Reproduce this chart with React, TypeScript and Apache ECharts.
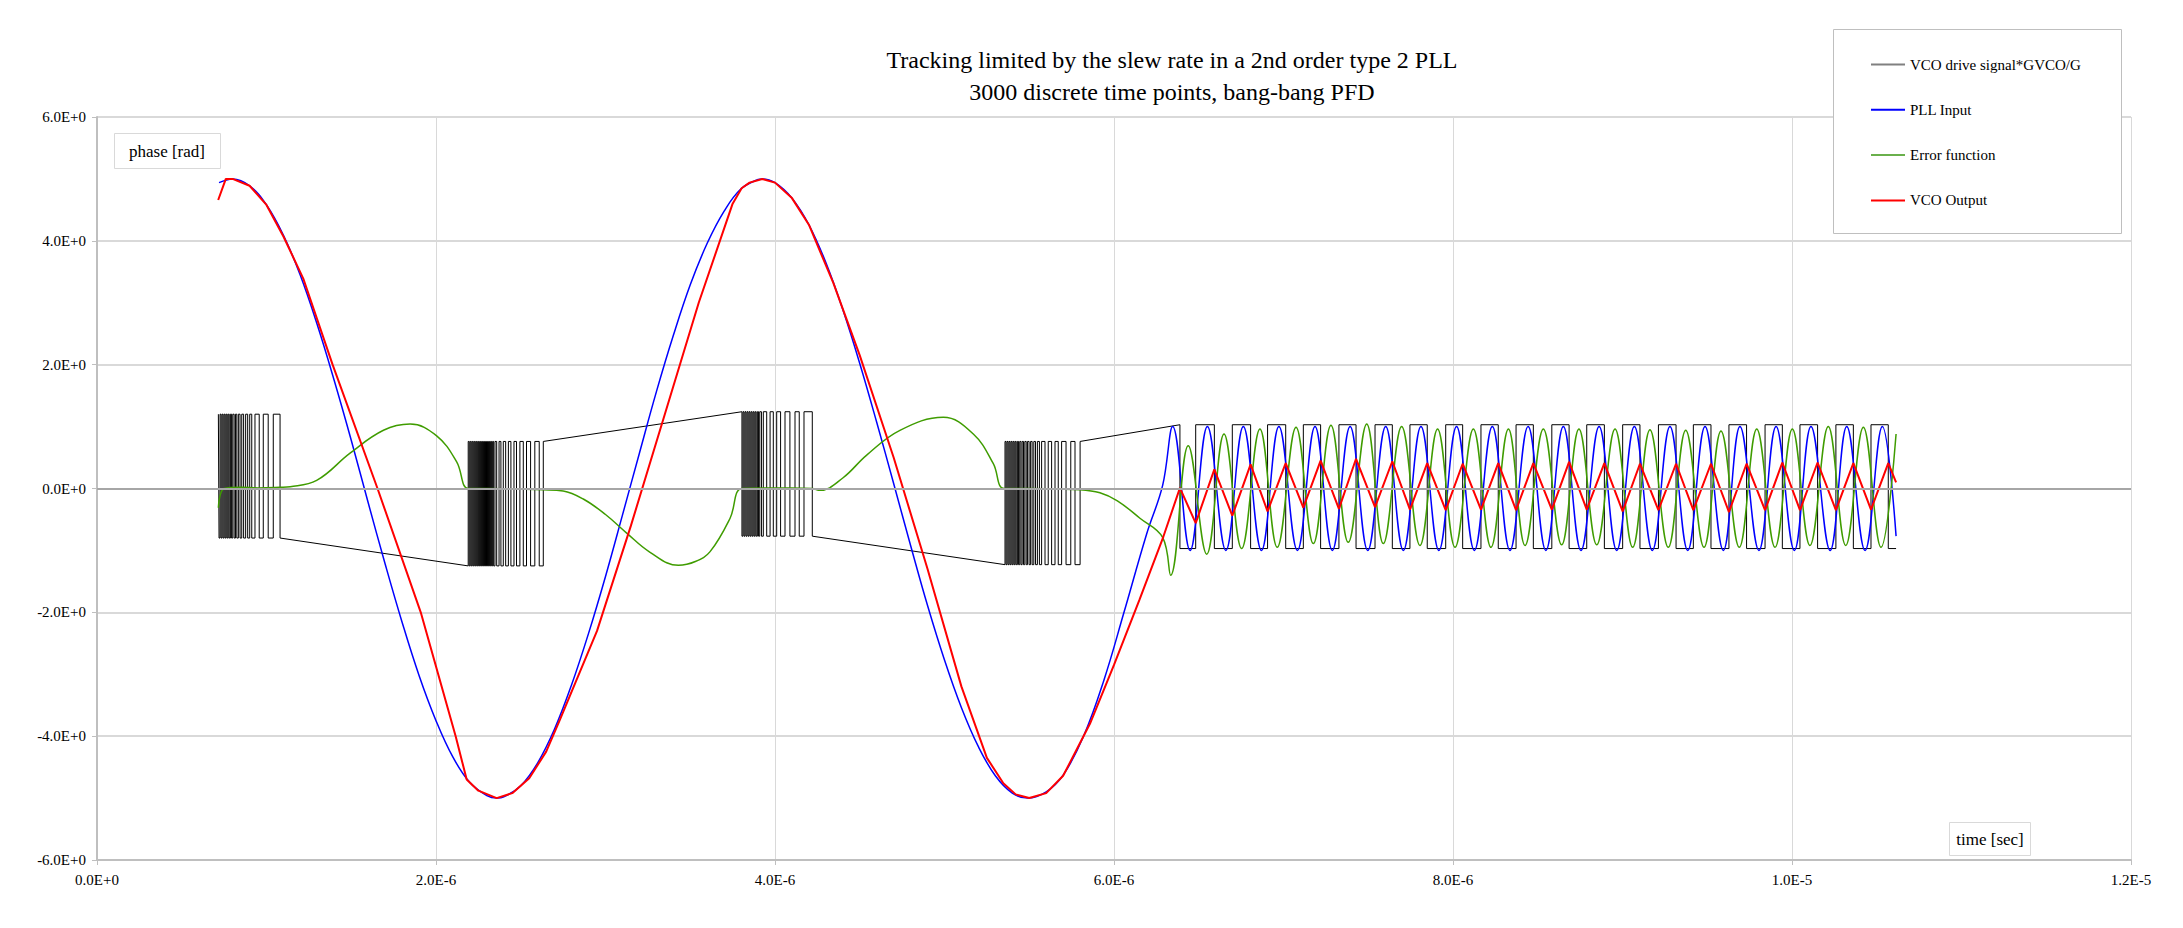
import React, { useEffect, useRef } from "react";
import * as echarts from "echarts";

const TITLE = "Tracking limited by the slew rate in a 2nd order type 2 PLL";
const SUBTITLE = "3000 discrete time points, bang-bang PFD";
const Y_NAME = "phase [rad]";
const X_NAME = "time [sec]";
const seriesNames = ["VCO drive signal*GVCO/G", "PLL Input", "Error function", "VCO Output"];

// time axis is kept in microseconds; labels show seconds
const xTickLabels = ["0.0E+0", "2.0E-6", "4.0E-6", "6.0E-6", "8.0E-6", "1.0E-5", "1.2E-5"];
const yTickLabels = ["-6.0E+0", "-4.0E+0", "-2.0E+0", "0.0E+0", "2.0E+0", "4.0E+0", "6.0E+0"];

// PLL Input [t(us), rad]
const pllInput = [
  [0.72, 4.94], [0.8, 5.0], [0.9, 4.89], [1.0, 4.58], [1.1, 4.09], [1.2, 3.44], [1.3, 2.64], [1.4, 1.74],
  [1.5, 0.78], [1.6, -0.23], [1.7, -1.22], [1.8, -2.16], [1.9, -3.02], [2.0, -3.75], [2.1, -4.34], [2.2, -4.75],
  [2.3, -4.96], [2.36, -5.0], [2.4, -4.98], [2.5, -4.8], [2.6, -4.43], [2.7, -3.88], [2.8, -3.17], [2.9, -2.34],
  [3.0, -1.42], [3.1, -0.43], [3.2, 0.57], [3.3, 1.56], [3.4, 2.47], [3.5, 3.29], [3.6, 3.96], [3.7, 4.48],
  [3.8, 4.84], [3.9, 4.99], [3.925, 5.0], [4.0, 4.94], [4.1, 4.69], [4.2, 4.26], [4.3, 3.65], [4.4, 2.89],
  [4.5, 2.02], [4.6, 1.07], [4.7, 0.08], [4.8, -0.92], [4.9, -1.89], [5.0, -2.77], [5.1, -3.54], [5.2, -4.17],
  [5.3, -4.64], [5.4, -4.92], [5.49, -5.0], [5.6, -4.9], [5.7, -4.63], [5.819, -4.01], [5.94, -3.1], [6.059, -2.0],
  [6.193, -0.73], [6.287, 0.05],
  [6.346, 1.0], [6.449, -1.0], [6.551, 1.0], [6.66, -1.0], [6.763, 1.0], [6.87, -1.0], [6.973, 1.0], [7.082, -1.0],
  [7.186, 1.0], [7.288, -1.0], [7.393, 1.0], [7.497, -1.0], [7.603, 1.0], [7.707, -1.0], [7.811, 1.0], [7.917, -1.0],
  [8.021, 1.0], [8.126, -1.0], [8.232, 1.0], [8.336, -1.0], [8.443, 1.0], [8.548, -1.0], [8.651, 1.0], [8.755, -1.0],
  [8.862, 1.0], [8.966, -1.0], [9.07, 1.0], [9.176, -1.0], [9.28, 1.0], [9.385, -1.0], [9.487, 1.0], [9.595, -1.0],
  [9.693, 1.0], [9.805, -1.0], [9.906, 1.0], [10.014, -1.0], [10.112, 1.0], [10.225, -1.0], [10.323, 1.0],
  [10.431, -1.0], [10.533, 1.0], [10.614, -0.77],
];

// VCO Output
const vcoOutput = [
  [0.715, 4.66], [0.76, 5.0], [0.8, 5.0], [0.9, 4.89], [1.0, 4.58], [1.1, 4.07], [1.217, 3.39], [1.39, 2.0],
  [1.655, 0.0], [1.91, -2.0], [2.116, -4.0], [2.181, -4.7], [2.25, -4.88], [2.358, -5.0], [2.45, -4.92],
  [2.55, -4.68], [2.65, -4.25], [2.73, -3.74], [2.95, -2.3], [3.15, -0.6], [3.35, 1.2], [3.55, 3.0], [3.75, 4.6],
  [3.803, 4.85], [3.85, 4.94], [3.925, 5.0], [4.0, 4.94], [4.1, 4.69], [4.2, 4.26], [4.344, 3.32], [4.5, 2.15],
  [4.7, 0.5], [4.9, -1.3], [5.1, -3.2], [5.25, -4.35], [5.347, -4.76], [5.42, -4.94], [5.5, -5.0], [5.6, -4.92],
  [5.7, -4.64], [5.858, -3.8], [6.0, -2.85], [6.15, -1.8], [6.291, -0.78], [6.389, 0.01],
  [6.482, -0.56], [6.592, 0.31], [6.698, -0.44], [6.806, 0.39], [6.906, -0.37], [7.013, 0.41], [7.117, -0.31],
  [7.219, 0.45], [7.327, -0.33], [7.428, 0.48], [7.54, -0.3], [7.642, 0.44], [7.746, -0.34], [7.848, 0.41],
  [7.957, -0.35], [8.057, 0.4], [8.165, -0.34], [8.267, 0.41], [8.372, -0.35], [8.474, 0.41], [8.583, -0.34],
  [8.685, 0.43], [8.789, -0.34], [8.893, 0.41], [9.001, -0.37], [9.103, 0.4], [9.212, -0.35], [9.316, 0.4],
  [9.418, -0.35], [9.522, 0.4], [9.628, -0.38], [9.732, 0.4], [9.841, -0.35], [9.943, 0.42], [10.047, -0.35],
  [10.151, 0.42], [10.259, -0.35], [10.362, 0.41], [10.466, -0.34], [10.568, 0.41], [10.614, 0.1],
];

// Error function
const errorFunction = [
  [0.716, -0.31], [0.75, 0.0], [0.85, 0.02], [0.95, 0.01], [1.08, 0.02], [1.14, 0.03], [1.296, 0.13],
  [1.493, 0.57], [1.69, 0.94], [1.847, 1.04], [2.004, 0.85], [2.122, 0.43], [2.19, 0.0], [2.3, 0.0],
  [2.45, -0.01], [2.633, -0.02], [2.75, -0.04], [2.869, -0.17], [3.0, -0.42], [3.125, -0.72], [3.263, -1.03],
  [3.43, -1.24], [3.53, -1.18], [3.617, -1.02], [3.735, -0.48], [3.803, 0.0], [3.95, 0.01], [4.1, 0.01],
  [4.22, 0.0], [4.265, -0.03], [4.4, 0.17], [4.541, 0.54], [4.737, 0.94], [4.993, 1.15], [5.17, 0.88],
  [5.288, 0.4], [5.351, 0.0], [5.5, 0.0], [5.65, -0.01], [5.8, -0.02], [5.917, -0.07], [6.02, -0.2],
  [6.153, -0.48], [6.287, -0.79],
  [6.334, -1.4], [6.438, 0.69], [6.547, -1.06], [6.649, 0.88], [6.753, -0.97], [6.861, 0.96], [6.963, -0.95],
  [7.074, 0.99], [7.176, -0.89], [7.28, 1.02], [7.382, -0.87], [7.491, 1.04], [7.589, -0.89], [7.697, 1.0],
  [7.805, -0.92], [7.909, 0.96], [8.012, -0.95], [8.12, 0.96], [8.224, -0.95], [8.327, 0.96], [8.425, -0.92],
  [8.533, 0.96], [8.641, -0.91], [8.743, 0.96], [8.848, -0.91], [8.956, 0.96], [9.06, -0.95], [9.162, 0.95],
  [9.27, -0.95], [9.373, 0.94], [9.481, -0.95], [9.581, 0.93], [9.689, -0.95], [9.792, 0.96], [9.9, -0.95],
  [10.002, 0.96], [10.106, -0.92], [10.214, 1.0], [10.317, -0.92], [10.421, 0.99], [10.525, -0.95], [10.614, 0.88],
];

// VCO drive signal: switching instants (us) of each burst, with its high / low levels
const burst1Toggles = [0.72, 0.726, 0.732, 0.738, 0.744, 0.75, 0.756, 0.762, 0.768, 0.774, 0.78, 0.787, 0.794, 0.801,
  0.809, 0.817, 0.825, 0.834, 0.844, 0.854, 0.865, 0.877, 0.889, 0.901, 0.913, 0.932, 0.957, 0.981, 1.01, 1.04, 1.08];
const burst2Toggles = [2.19, 2.196, 2.202, 2.208, 2.214, 2.22, 2.226, 2.232, 2.238, 2.244, 2.25, 2.256, 2.262, 2.268,
  2.274, 2.28, 2.286, 2.292, 2.298, 2.304, 2.31, 2.316, 2.322, 2.328, 2.334, 2.34, 2.348, 2.358, 2.372, 2.383, 2.397,
  2.411, 2.427, 2.442, 2.46, 2.475, 2.495, 2.515, 2.534, 2.558, 2.583, 2.609, 2.633];
const burst3Toggles = [3.805, 3.811, 3.817, 3.823, 3.829, 3.835, 3.841, 3.847, 3.853, 3.859, 3.865, 3.871, 3.877, 3.883,
  3.889, 3.896, 3.903, 3.91, 3.92, 3.931, 3.951, 3.971, 3.99, 4.01, 4.033, 4.059, 4.088, 4.118, 4.143, 4.171, 4.22];
const burst4Toggles = [5.357, 5.363, 5.369, 5.375, 5.381, 5.387, 5.393, 5.399, 5.405, 5.411, 5.417, 5.423, 5.43, 5.437,
  5.444, 5.451, 5.458, 5.466, 5.474, 5.482, 5.49, 5.499, 5.508, 5.517, 5.527, 5.537, 5.548, 5.56, 5.573, 5.593, 5.612,
  5.632, 5.652, 5.671, 5.691, 5.717, 5.745, 5.77, 5.8];
const lockToggles = [6.389, 6.482, 6.592, 6.698, 6.806, 6.906, 7.013, 7.117, 7.219, 7.327, 7.428, 7.54, 7.642, 7.746,
  7.848, 7.957, 8.057, 8.165, 8.267, 8.372, 8.474, 8.583, 8.685, 8.789, 8.893, 9.001, 9.103, 9.212, 9.316, 9.418, 9.522,
  9.628, 9.732, 9.841, 9.943, 10.047, 10.151, 10.259, 10.362, 10.466, 10.568];
const driveToggles = [burst1Toggles, burst2Toggles, burst3Toggles, burst4Toggles, lockToggles];
const driveStartTimes = [0.716, 2.19, 3.805, 5.357, 6.389];
const driveStartHigh = [true, false, true, false, true];
const driveHigh = [1.2, 0.76, 1.24, 0.76, 1.03];
const driveLow = [-0.8, -1.25, -0.77, -1.23, -0.97];
const driveEndTime = 10.614;

function buildDrive() {
  const pts: number[][] = [];
  let high = true;
  let last = 0;
  driveToggles.forEach((toggles, i) => {
    high = driveStartHigh[i];
    pts.push([driveStartTimes[i], high ? driveHigh[i] : driveLow[i]]);
    toggles.forEach((t) => {
      pts.push([t, high ? driveHigh[i] : driveLow[i]]);
      high = !high;
      pts.push([t, high ? driveHigh[i] : driveLow[i]]);
    });
    last = i;
  });
  pts.push([driveEndTime, high ? driveHigh[last] : driveLow[last]]);
  return pts;
}

const FONT = "'Liberation Serif', 'DejaVu Serif', serif";

export default function App() {
  const ref = useRef<HTMLDivElement>(null);
  useEffect(() => {
    if (!ref.current) return;
    const chart = echarts.init(ref.current, null, { renderer: "svg" });
    const lineColors = ["#000000", "#0000ff", "#3f9c00", "#ff0000"];
    const legendColors = ["#808080", "#0000ff", "#6ab04c", "#ff0000"];
    chart.setOption({
      animation: false,
      backgroundColor: "#ffffff",
      grid: { left: 97, right: 52, top: 117, bottom: 68, containLabel: false },
      legend: {
        data: seriesNames,
        orient: "vertical",
        left: 1871,
        top: 57,
        padding: 0,
        icon: "rect",
        itemWidth: 34,
        itemHeight: 2,
        itemGap: 30.3,
        z: 10,
        textStyle: { fontFamily: FONT, fontSize: 15, color: "#000" },
      },
      xAxis: {
        type: "value",
        min: 0,
        max: 12,
        interval: 2,
        axisLine: { show: true, onZero: false, lineStyle: { color: "#bfbfbf", width: 2 } },
        axisTick: { show: true, length: 5, lineStyle: { color: "#bfbfbf" } },
        axisLabel: {
          formatter: (v: number) => xTickLabels[Math.round(v / 2)] ?? "",
          fontFamily: FONT,
          fontSize: 15,
          color: "#000",
          margin: 12,
        },
        splitLine: { show: true, lineStyle: { color: "#d9d9d9", width: 1 } },
      },
      yAxis: {
        type: "value",
        min: -6,
        max: 6,
        interval: 2,
        axisLine: { show: true, lineStyle: { color: "#bfbfbf", width: 2 } },
        axisTick: { show: true, length: 5, lineStyle: { color: "#bfbfbf" } },
        axisLabel: {
          formatter: (v: number) => yTickLabels[Math.round((v + 6) / 2)] ?? "",
          fontFamily: FONT,
          fontSize: 15,
          color: "#000",
          margin: 11,
        },
        splitLine: { show: true, lineStyle: { color: "#d9d9d9", width: 2 } },
      },
      series: [
        {
          name: "zero",
          type: "line",
          data: [],
          z: 1,
          silent: true,
          markLine: {
            silent: true,
            symbol: ["none", "none"],
            label: { show: false },
            lineStyle: { color: "#a6a6a6", width: 2, type: "solid" },
            data: [{ yAxis: 0 }],
          },
        },
        {
          name: seriesNames[0],
          type: "line",
          data: buildDrive(),
          showSymbol: false,
          symbol: "none",
          lineStyle: { color: lineColors[0], width: 1 },
          itemStyle: { color: legendColors[0] },
        },
        {
          name: seriesNames[1],
          type: "line",
          data: pllInput,
          showSymbol: false,
          symbol: "none",
          smooth: 0.4,
          lineStyle: { color: lineColors[1], width: 1.5 },
          itemStyle: { color: legendColors[1] },
        },
        {
          name: seriesNames[2],
          type: "line",
          data: errorFunction,
          showSymbol: false,
          symbol: "none",
          smooth: 0.4,
          lineStyle: { color: lineColors[2], width: 1.5 },
          itemStyle: { color: legendColors[2] },
        },
        {
          name: seriesNames[3],
          type: "line",
          data: vcoOutput,
          showSymbol: false,
          symbol: "none",
          lineStyle: { color: lineColors[3], width: 2 },
          itemStyle: { color: legendColors[3] },
        },
      ],
      graphic: [
        {
          type: "text",
          x: 1172,
          y: 60,
          z: 5,
          style: { text: TITLE, font: `24px ${FONT}`, fill: "#000", align: "center", verticalAlign: "middle" },
        },
        {
          type: "text",
          x: 1172,
          y: 92,
          z: 5,
          style: { text: SUBTITLE, font: `24px ${FONT}`, fill: "#000", align: "center", verticalAlign: "middle" },
        },
        {
          type: "rect",
          z: 5,
          shape: { x: 1833.5, y: 29.5, width: 288, height: 204 },
          style: { fill: "#ffffff", stroke: "#bfbfbf", lineWidth: 1 },
        },
        {
          type: "rect",
          z: 5,
          shape: { x: 114.5, y: 133.5, width: 106, height: 35 },
          style: { fill: "#ffffff", stroke: "#d9d9d9", lineWidth: 1 },
        },
        {
          type: "text",
          x: 167,
          y: 151,
          z: 6,
          style: { text: Y_NAME, font: `17px ${FONT}`, fill: "#000", align: "center", verticalAlign: "middle" },
        },
        {
          type: "rect",
          z: 5,
          shape: { x: 1949.5, y: 822.5, width: 81, height: 33 },
          style: { fill: "#ffffff", stroke: "#d9d9d9", lineWidth: 1 },
        },
        {
          type: "text",
          x: 1990,
          y: 839,
          z: 6,
          style: { text: X_NAME, font: `17px ${FONT}`, fill: "#000", align: "center", verticalAlign: "middle" },
        },
      ],
    });
    return () => chart.dispose();
  }, []);
  return (
    <div
      ref={ref}
      style={{ position: "absolute", left: 0, top: 0, width: 2183, height: 928, background: "#fff" }}
    />
  );
}
